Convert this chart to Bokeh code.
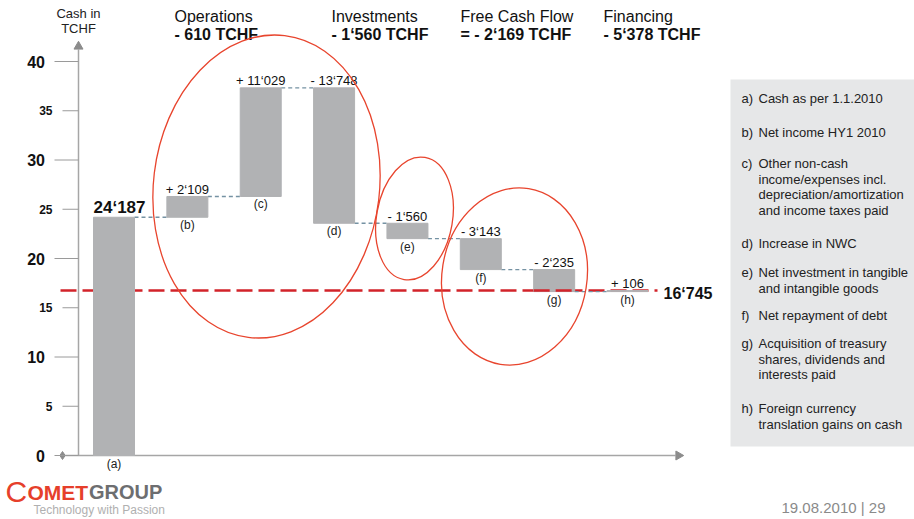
from bokeh.plotting import figure
from bokeh.models import Range1d, ColumnDataSource
from bokeh.embed import file_html
from bokeh.resources import INLINE
from bokeh.core.properties import value

# ---------------- data ----------------
bar_letters = ["(a)", "(b)", "(c)", "(d)", "(e)", "(f)", "(g)", "(h)"]
bar_changes = [24.187, 2.109, 11.029, -13.748, -1.560, -3.143, -2.235, 0.106]
bar_value_labels = ["24‘187", "+ 2‘109", "+ 11‘029", "- 13‘748", "- 1‘560",
                    "- 3‘143", "- 2‘235", "+ 106"]
end_cash = 16.745
end_cash_label = "16‘745"
y_major_ticks = [0, 10, 20, 30, 40]
y_minor_ticks = [5, 15, 25, 35]
axis_title = ["Cash in", "TCHF"]
group_titles = ["Operations", "Investments", "Free Cash Flow", "Financing"]
group_totals = ["- 610 TCHF", "- 1‘560 TCHF", "= - 2‘169 TCHF", "- 5‘378 TCHF"]
legend_keys = ["a)", "b)", "c)", "d)", "e)", "f)", "g)", "h)"]
legend_lines = [
    ["Cash as per 1.1.2010"],
    ["Net income HY1 2010"],
    ["Other non-cash", "income/expenses incl.", "depreciation/amortization",
     "and income taxes paid"],
    ["Increase in NWC"],
    ["Net investment in tangible", "and intangible goods"],
    ["Net repayment of debt"],
    ["Acquisition of treasury", "shares, dividends and", "interests paid"],
    ["Foreign currency", "translation gains on cash"],
]
date_text = "19.08.2010 | 29"

# ---------------- layout ----------------
W, H = 914, 519
X0_PX, X_SCALE = 113.5, 73.36      # pixel of category 0, pixels per category
Y0_PX, Y_SCALE = 455.0, 9.85       # pixel of value 0, pixels per unit
BW = 41 / X_SCALE                  # bar width in category units


def px2x(px):
    return (px - X0_PX) / X_SCALE


def px2y(py):
    return (Y0_PX - py) / Y_SCALE


FONT = value("Liberation Sans")
BAR_COLOR = "#b1b2b4"
RED = "#d2232a"
ELLIPSE_RED = "#e8452e"
CONN_COLOR = "#7592a3"

p = figure(width=W, height=H, output_backend="svg", toolbar_location=None,
           x_axis_type=None, y_axis_type=None,
           x_range=Range1d(px2x(0), px2x(W)), y_range=Range1d(px2y(H), px2y(0)),
           min_border=0, outline_line_color=None)
p.background_fill_color = "white"
p.border_fill_color = "white"

# ---------------- waterfall computation ----------------
idx = list(range(len(bar_changes)))
starts, ends = [], []
level = 0.0
for c in bar_changes:
    starts.append(level)
    level += c
    ends.append(level)
tops = [max(s, e) for s, e in zip(starts, ends)]
bottoms = [min(s, e) for s, e in zip(starts, ends)]

# ---------------- axes (drawn) ----------------
AX_X = px2x(78)
p.segment(x0=[AX_X], y0=[0], x1=[AX_X], y1=[px2y(49)], line_color="#a6a6a6", line_width=1.5)
p.scatter(x=[AX_X], y=[px2y(46)], marker="triangle", size=9, fill_color="#8c8c8c",
          line_color="#8c8c8c")
p.segment(x0=[px2x(62)], y0=[0], x1=[px2x(675)], y1=[0], line_color="#a6a6a6", line_width=1.5)
p.scatter(x=[px2x(678)], y=[0], marker="triangle", size=9, angle=-1.5708,
          fill_color="#8c8c8c", line_color="#8c8c8c")
p.scatter(x=[px2x(62)], y=[0], marker="diamond", size=8, fill_color="#8c8c8c",
          line_color="#8c8c8c")

p.segment(x0=[px2x(54)] * len(y_major_ticks), y0=y_major_ticks,
          x1=[AX_X] * len(y_major_ticks), y1=y_major_ticks, line_color="#9a9a9a", line_width=1)
p.segment(x0=[px2x(62)] * len(y_minor_ticks), y0=y_minor_ticks,
          x1=[AX_X] * len(y_minor_ticks), y1=y_minor_ticks, line_color="#9a9a9a", line_width=1)
p.text(x=[px2x(44.5)] * len(y_major_ticks), y=y_major_ticks, text=[str(t) for t in y_major_ticks],
       text_font=FONT, text_font_size="16px", text_font_style="bold", text_color="#111111",
       text_align="right", text_baseline="middle")
p.text(x=[px2x(52)] * len(y_minor_ticks), y=y_minor_ticks, text=[str(t) for t in y_minor_ticks],
       text_font=FONT, text_font_size="12px", text_font_style="bold", text_color="#111111",
       text_align="right", text_baseline="middle")
p.text(x=[AX_X, AX_X], y=[px2y(13), px2y(28)], text=axis_title, text_font=FONT,
       text_font_size="13px", text_color="#222222", text_align="center", text_baseline="middle")

# ---------------- end-cash line (behind bars) ----------------
p.line(x=[px2x(60), px2x(657)], y=[end_cash, end_cash], line_color=RED, line_width=2.5,
       line_dash="16 6")

# ---------------- connectors ----------------
p.segment(x0=[i + BW / 2 for i in idx[:-1]], y0=ends[:-1],
          x1=[i + 1 - BW / 2 for i in idx[:-1]], y1=ends[:-1],
          line_color=CONN_COLOR, line_width=1.3, line_dash="4 3")

# ---------------- bars ----------------
src = ColumnDataSource(dict(x=idx, top=tops, bottom=bottoms))
p.vbar(x="x", width=BW, top="top", bottom="bottom", source=src,
       fill_color=BAR_COLOR, line_color=BAR_COLOR, line_width=1)

# red line visible over bar (g)
g = 6
p.segment(x0=[g - BW / 2], y0=[end_cash], x1=[g + BW / 2], y1=[end_cash],
          line_color=RED, line_width=2.5, line_dash="16 6")

# ---------------- bar labels ----------------
p.text(x=[idx[0] - BW / 2], y=[tops[0]], text=[bar_value_labels[0]], text_font=FONT,
       text_font_size="17px", text_font_style="bold", text_color="#111111",
       text_align="left", text_baseline="middle", y_offset=-10)
p.text(x=idx[1:], y=tops[1:], text=bar_value_labels[1:], text_font=FONT,
       text_font_size="13px", text_color="#111111", text_align="center",
       text_baseline="middle", y_offset=-7)
p.text(x=idx, y=bottoms, text=bar_letters, text_font=FONT, text_font_size="12px",
       text_color="#222222", text_align="center", text_baseline="top", y_offset=1)
p.text(x=[idx[-1] + px2x(663) - px2x(627)], y=[end_cash], text=[end_cash_label],
       text_font=FONT, text_font_size="16px", text_font_style="bold", text_color="#111111",
       text_align="left", text_baseline="middle", y_offset=3)

# ---------------- group headers ----------------
header_px = [174, 331, 460, 603]
p.text(x=[px2x(v) for v in header_px], y=[px2y(16)] * 4, text=group_titles, text_font=FONT,
       text_font_size="16px", text_color="#111111", text_align="left", text_baseline="middle")
p.text(x=[px2x(v) for v in header_px], y=[px2y(34)] * 4, text=group_totals, text_font=FONT,
       text_font_size="16px", text_font_style="bold", text_color="#111111",
       text_align="left", text_baseline="middle")

# ---------------- grouping ellipses ----------------
p.ellipse(x=[px2x(266), px2x(414), px2x(514)], y=[px2y(186), px2y(218), px2y(276)],
          width=[226, 76, 145], height=[304, 124, 178], angle=[-0.12, -0.17, -0.16],
          width_units="screen", height_units="screen",
          fill_color=None, line_color=ELLIPSE_RED, line_width=1.3)

# ---------------- legend panel ----------------
p.quad(left=[px2x(730)], right=[px2x(914)], top=[px2y(79)], bottom=[px2y(446)],
       fill_color="#e6e7e8", line_color=None)
legend_first_y = [98, 132, 163, 243, 272, 315, 343, 408]
LINE_H = 15.7
kx, ky, tx, ty, tt = [], [], [], [], []
for key, lines, y0 in zip(legend_keys, legend_lines, legend_first_y):
    kx.append(px2x(741))
    ky.append(px2y(y0))
    for j, ln in enumerate(lines):
        tx.append(px2x(758))
        ty.append(px2y(y0 + j * LINE_H))
        tt.append(ln)
p.text(x=kx, y=ky, text=legend_keys, text_font=FONT, text_font_size="13px",
       text_color="#222222", text_align="left", text_baseline="middle")
p.text(x=tx, y=ty, text=tt, text_font=FONT, text_font_size="13px",
       text_color="#222222", text_align="left", text_baseline="middle")

# ---------------- footer ----------------
p.text(x=[px2x(5)], y=[px2y(491)], text=["C"], text_font=FONT, text_font_size="30px",
       text_color="#e63f2b", text_align="left", text_baseline="middle")
p.text(x=[px2x(27)], y=[px2y(491.5)], text=["OMET"], text_font=FONT, text_font_size="21px",
       text_font_style="bold", text_color="#e63f2b", text_align="left", text_baseline="middle")
p.text(x=[px2x(88.5)], y=[px2y(491.5)], text=["GROUP"], text_font=FONT, text_font_size="20px",
       text_font_style="bold", text_color="#6d6e70", text_align="left", text_baseline="middle")
p.text(x=[px2x(33)], y=[px2y(509)], text=["Technology with Passion"], text_font=FONT,
       text_font_size="12px", text_color="#b0b0b0", text_align="left", text_baseline="middle")
p.text(x=[px2x(885)], y=[px2y(507)], text=[date_text], text_font=FONT, text_font_size="15px",
       text_color="#8a8a8a", text_align="right", text_baseline="middle")

open("out.html", "w").write(file_html(p, INLINE))
